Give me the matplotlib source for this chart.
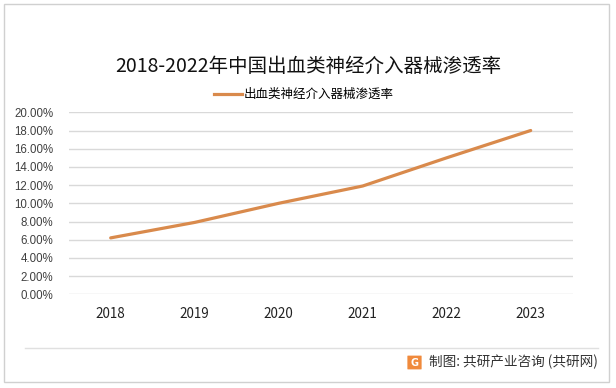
import matplotlib
matplotlib.use("Agg")
from matplotlib import pyplot as plt
from matplotlib.patches import Rectangle, FancyBboxPatch
from matplotlib.lines import Line2D
import numpy as np

plt.rcParams['font.family'] = ['Noto Sans CJK SC', 'DejaVu Sans']

# data
years = ["2018", "2019", "2020", "2021", "2022", "2023"]
rate = [6.2, 7.9, 10.0, 11.9, 15.0, 18.0]
y_ticks = [0, 2, 4, 6, 8, 10, 12, 14, 16, 18, 20]
title = "2018-2022年中国出血类神经介入器械渗透率"
series_name = "出血类神经介入器械渗透率"
source = "制图: 共研产业咨询 (共研网)"

W, H = 616, 388
fig = plt.figure(figsize=(W / 100, H / 100), dpi=100)
ax = fig.add_axes([68.7 / W, 1 - 294.3 / H, 504 / W, 182 / H])

x = np.arange(len(years))
ax.plot(x, rate, color="#D98A4C", lw=2.3, solid_capstyle="round", label=series_name)

ax.set_xlim(-0.5, len(years) - 0.5)
ax.set_ylim(0, 20)
ax.set_yticks(y_ticks)
ax.set_yticklabels(["%.2f%%" % v for v in y_ticks], family="Liberation Sans",
                   fontsize=8.3, color="#404040")
ax.set_xticks(x)
ax.set_xticklabels(years, fontsize=9.7, color="#222222")
ax.tick_params(axis="both", length=0)
ax.tick_params(axis="y", pad=11)
ax.tick_params(axis="x", pad=9)
ax.grid(axis="y", color="#D9D9D9", lw=1)
ax.set_axisbelow(True)
for s in ax.spines.values():
    s.set_visible(False)

fig.text(0.5, 1 - 67 / H, title, ha="center", va="center", fontsize=14, color="#111111")

handle = Line2D([], [], color="#D98A4C", lw=2.3)
fig.legend([handle], [series_name], loc="center", bbox_to_anchor=(304 / W, 1 - 94.7 / H),
           frameon=False, fontsize=9, handlelength=2.2, handletextpad=0.2)

# frame and footer
fig.patches.append(Rectangle((4 / W, 6 / H), 605 / W, 378 / H, transform=fig.transFigure,
                             fill=False, ec="#D0D0D0", lw=1))
fig.lines.append(Line2D([25 / W, 598 / W], [1 - 348 / H, 1 - 348 / H], transform=fig.transFigure,
                        color="#E0E0E0", lw=1))
fig.patches.append(FancyBboxPatch((408 / W, 1 - 369 / H), 13 / W, 13 / H, transform=fig.transFigure,
                                  boxstyle="round,pad=0.001", fc="#F08A3C", ec="none"))
fig.text(414.5 / W, 1 - 362.5 / H, "G", ha="center", va="center", fontsize=7,
         fontweight="bold", color="white", family="DejaVu Sans")
fig.text(598 / W, 1 - 362 / H, source, ha="right", va="center", fontsize=9.8, color="#333333")

fig.savefig("out.png", dpi=100)
